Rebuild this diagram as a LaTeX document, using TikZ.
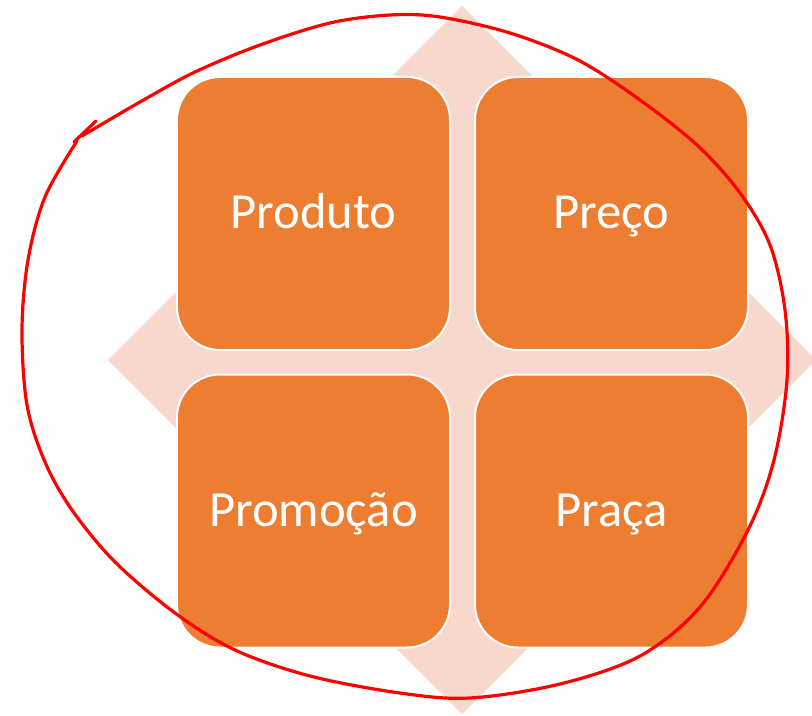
\documentclass[tikz,border=0pt]{standalone}
\usepackage{fontspec}
\setmainfont{Carlito}
\definecolor{boxorange}{HTML}{ED7D31}
\definecolor{diamondpink}{HTML}{F8D7CD}
\definecolor{penred}{HTML}{FF0000}

\begin{document}
\begin{tikzpicture}[x=0.25mm, y=-0.25mm,
	box/.style={rectangle, rounded corners=10.75mm, minimum size=68.25mm, fill=boxorange, draw=white, line width=0.5mm, text=white, text height=22pt, text depth=0pt, font=\fontsize{36}{43}\selectfont},
	pen/.style={penred, line width=0.8mm, line cap=round, line join=round}]
	\useasboundingbox (0,0) rectangle (812,716);
	\fill [diamondpink] (462,6) -- (816,360) -- (462,714) -- (108,360) -- cycle;

	\node at (313.5,213.5) [box] (prod) {Produto};
	\node at (611.5,213.5) [box] (prec) {Preço};
	\node at (313.5,511) [box] (prom) {Promoção};
	\node at (611.5,511) [box] (praca) {Praça};

	\draw [pen] plot [smooth, tension=0.55] coordinates {(77,141) (45,197) (28,260) (22,330) (27,405) (45,462) (72,510) (115,562) (175,613) (235,650) (310,676) (400,693) (470,698) (560,684) (640,656) (700,607) (748,530) (774,460) (787,380) (785,310) (770,245) (740,193) (698,146) (640,100) (578,60) (510,33) (440,17) (390,15) (330,23) (260,45) (195,72) (140,102) (82,136)};
	\draw [pen] (96,121) -- (74,142);
\end{tikzpicture}
\end{document}
